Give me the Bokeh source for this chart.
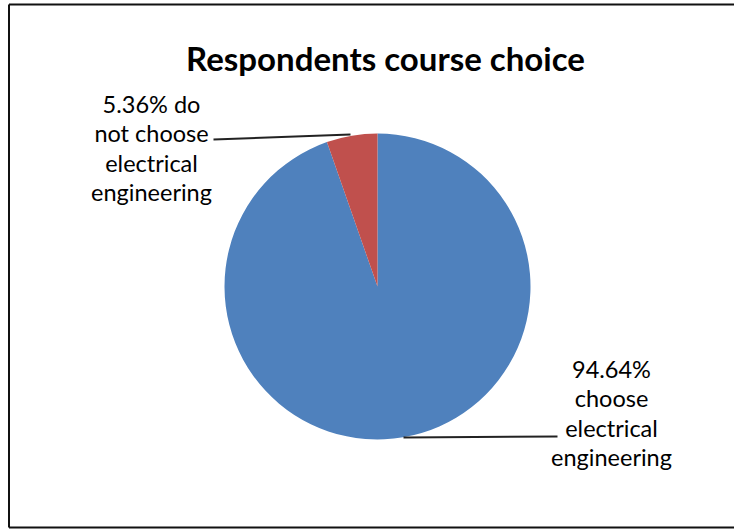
from math import pi
from bokeh.plotting import figure
from bokeh.models import Range1d, ColumnDataSource
from bokeh.core.properties import value
from bokeh.embed import file_html
from bokeh.resources import INLINE

# ---- data ----
categories = ["choose electrical engineering", "do not choose electrical engineering"]
percentages = [94.64, 5.36]
colors = ["#4F81BD", "#C0504D"]
label_lines = [
    ["94.64%", "choose", "electrical", "engineering"],
    ["5.36% do", "not choose", "electrical", "engineering"],
]
title_text = "Respondents course choice"

# ---- layout (page pixel coords; data y = 529 - page y) ----
W, H = 734, 529
PAGE_H = 529
def Y(py):
    return PAGE_H - py

p = figure(width=W, height=H, output_backend="svg", toolbar_location=None,
           x_range=Range1d(0, W), y_range=Range1d(PAGE_H - H, PAGE_H),
           min_border=0)
p.axis.visible = False
p.grid.visible = False
p.outline_line_color = None
p.background_fill_color = "white"

# border (left, top, bottom)
p.line([8.5, 8.5], [Y(4), Y(527)], line_color="#111111", line_width=2)
p.line([8.5, 734], [Y(527), Y(527)], line_color="#111111", line_width=2)
p.line([8.5, 734], [Y(4), Y(4)], line_color="#111111", line_width=2)

cx, cy, r = 377, Y(286), 153

# wedges: start at 12 o'clock; blue clockwise, red counterclockwise
total = sum(percentages)
red_span = percentages[1] / total * 2 * pi
starts = [pi / 2 + red_span, pi / 2]
ends = [pi / 2 + 2 * pi, pi / 2 + red_span]
src = ColumnDataSource(dict(start=starts, end=ends, color=colors, cat=categories))
p.wedge(x=cx, y=cy, radius=r, start_angle="start", end_angle="end",
        color="color", direction="anticlock", source=src, line_color=None)

# leader lines
p.line([403, 557], [Y(437), Y(436)], line_color="#222222", line_width=2)
p.line([213, 350], [Y(139), Y(134)], line_color="#222222", line_width=2)

# labels
font = value("Lato")
label_pos = [(611, 368), (151, 103)]
for lines, (lx, ly) in zip(label_lines, label_pos):
    ys = [Y(ly + i * 29.5) for i in range(len(lines))]
    p.text(x=[lx] * len(lines), y=ys, text=lines, text_font=font,
           text_font_size="23.5px", text_align="center", text_baseline="middle",
           text_color="#000000")

p.text(x=[385], y=[Y(57)], text=[title_text], text_font=font,
       text_font_size="33px", text_font_style="bold", text_align="center",
       text_baseline="middle", text_color="#000000")

open("out.html", "w").write(file_html(p, INLINE))
